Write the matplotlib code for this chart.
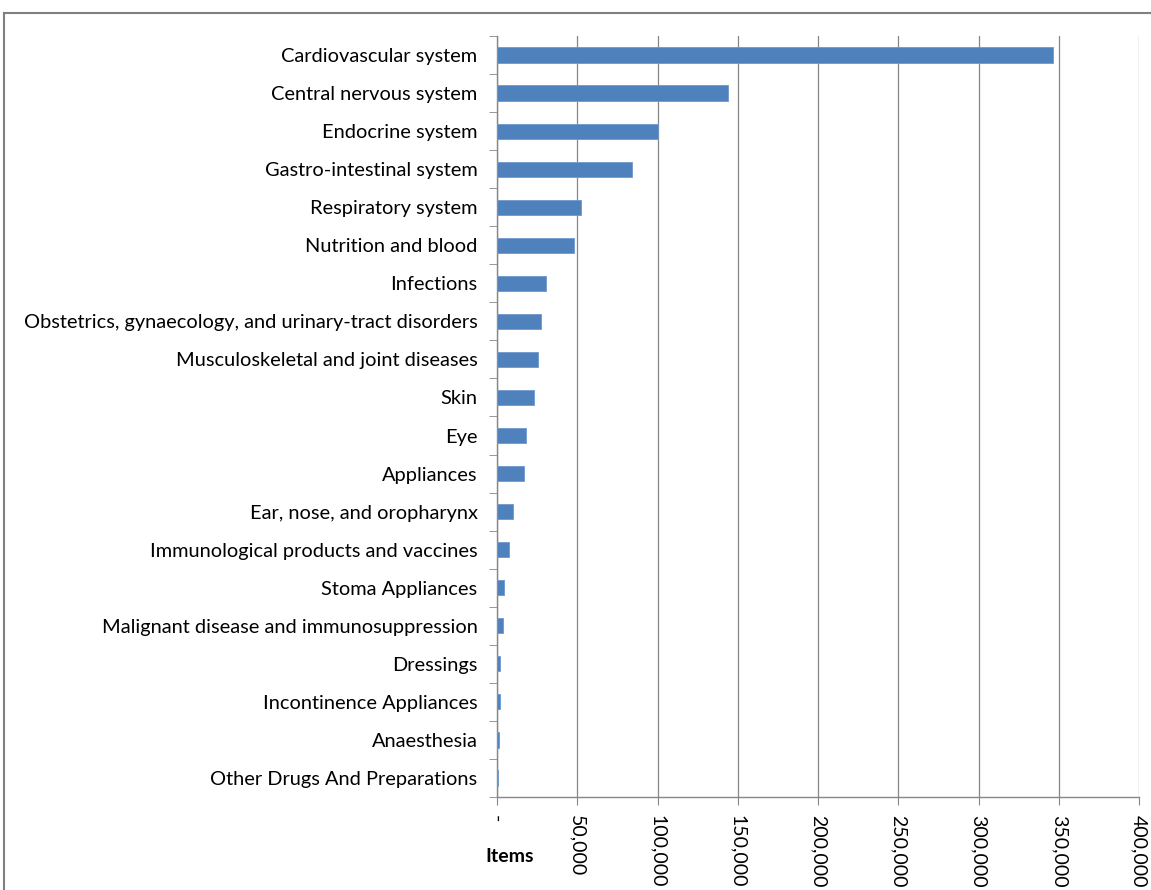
import matplotlib
matplotlib.use("Agg")
import matplotlib.pyplot as plt
from matplotlib.lines import Line2D
from matplotlib.ticker import FixedLocator, FuncFormatter

categories = [
    "Cardiovascular system",
    "Central nervous system",
    "Endocrine system",
    "Gastro-intestinal system",
    "Respiratory system",
    "Nutrition and blood",
    "Infections",
    "Obstetrics, gynaecology, and urinary-tract disorders",
    "Musculoskeletal and joint diseases",
    "Skin",
    "Eye",
    "Appliances",
    "Ear, nose, and oropharynx",
    "Immunological products and vaccines",
    "Stoma Appliances",
    "Malignant disease and immunosuppression",
    "Dressings",
    "Incontinence Appliances",
    "Anaesthesia",
    "Other Drugs And Preparations",
]
items = [346400, 144000, 100300, 84100, 52300, 48000, 30500, 27400, 25400, 23200,
         18300, 17000, 10000, 7500, 4600, 4000, 2100, 2100, 1500, 800]
x_ticks = [0, 50000, 100000, 150000, 200000, 250000, 300000, 350000, 400000]
x_label = "Items"

plt.rcParams['font.family'] = ['Lato', 'DejaVu Sans']

W, H = 1151, 890
fig = plt.figure(figsize=(W / 100, H / 100), dpi=100)
ax = fig.add_axes([497 / W, 1 - 797 / H, (1139 - 497) / W, (797 - 36) / H])

n = len(categories)
ypos = list(range(n))
ax.barh(ypos, items, height=0.4, color="#4F81BD", edgecolor="#6F98CC",
        linewidth=0.6, zorder=3)
ax.set_ylim(n - 0.5, -0.5)
ax.set_xlim(0, 400000)

grid_col = "#868686"
ax.xaxis.set_major_locator(FixedLocator(x_ticks))
ax.xaxis.set_major_formatter(FuncFormatter(lambda v, p: "-" if v == 0 else f"{int(v):,}"))
ax.grid(axis="x", color=grid_col, linewidth=0.9, zorder=0)
ax.tick_params(axis="x", direction="out", length=6, color=grid_col, labelsize=14,
               labelrotation=270, pad=7, labelcolor="black")
for lbl in ax.get_xticklabels():
    lbl.set_va("top")
    lbl.set_ha("center")

ax.set_yticks(ypos)
ax.set_yticklabels(categories)
ax.tick_params(axis="y", which="major", length=0, labelsize=14.4, pad=14)
ax.set_yticks([i - 0.5 for i in range(n + 1)], minor=True)
ax.tick_params(axis="y", which="minor", length=6, direction="out", color=grid_col)

for s in ["top", "right"]:
    ax.spines[s].set_visible(False)
for s in ["left", "bottom"]:
    ax.spines[s].set_color(grid_col)
    ax.spines[s].set_linewidth(1.0)

fig.text(510 / W, 1 - 857 / H, x_label, ha="center", va="center",
         fontsize=14, fontweight="bold")

# outer chart frame (cropped)
fig.add_artist(Line2D([4 / W, 1.0], [1 - 13 / H, 1 - 13 / H], color="#808080", linewidth=1.5,
                      transform=fig.transFigure))
fig.add_artist(Line2D([4 / W, 4 / W], [0.0, 1 - 13 / H], color="#808080", linewidth=1.5,
                      transform=fig.transFigure))

fig.savefig("out.png", dpi=100)
